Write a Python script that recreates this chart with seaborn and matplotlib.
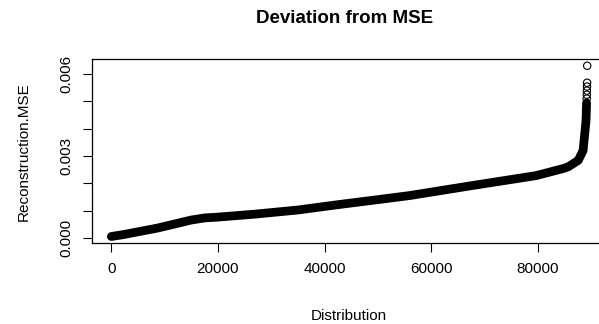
import numpy as np
import pandas as pd
import matplotlib
matplotlib.use("Agg")
import matplotlib.pyplot as plt
import seaborn as sns

# sorted reconstruction errors (index in the sorted list, MSE)
idx = [0, 2270, 8700, 13000, 14900, 17500, 20000, 27000, 35000, 41900, 50000, 56000,
       67200, 79700, 84800, 85700, 87600, 88500, 89050, 89150]
mse = [0.00005, 0.00012, 0.00036, 0.00056, 0.00065, 0.00073, 0.00076, 0.00087, 0.00102,
       0.00120, 0.00140, 0.00155, 0.00190, 0.00228, 0.00254, 0.00260, 0.00284,
       0.00320, 0.00431, 0.00494]

# the few largest errors that show as separate circles
out_idx = [89170, 89190, 89210, 89230, 89250, 89270]
out_mse = [0.00510, 0.00524, 0.00539, 0.00554, 0.00568, 0.00630]

band = pd.DataFrame({"Distribution": idx, "Reconstruction.MSE": mse})
tail = pd.DataFrame({"Distribution": out_idx, "Reconstruction.MSE": out_mse})

sns.set_style("white", rc={"text.color": "black", "axes.labelcolor": "black",
                           "xtick.color": "black", "ytick.color": "black",
                           "xtick.bottom": True, "ytick.left": True})
plt.rcParams["font.family"] = ["Liberation Sans", "DejaVu Sans"]

fig = plt.figure(figsize=(5.99, 3.24), dpi=100)
# the plot box runs a little past the right edge of the picture
ax = fig.add_axes([0.1541, 0.249, 0.858, 0.569])

sns.lineplot(data=band, x="Distribution", y="Reconstruction.MSE", ax=ax,
             color="black", linewidth=6.3, sort=False, estimator=None,
             solid_capstyle="round", solid_joinstyle="round")
sns.scatterplot(data=tail, x="Distribution", y="Reconstruction.MSE", ax=ax,
                facecolor="none", edgecolor="black", linewidth=0.8, s=28,
                marker="o")

# R style 4% padding
all_x = idx + out_idx
all_y = mse + out_mse
px = 0.04 * (max(all_x) - min(all_x))
py = 0.04 * (max(all_y) - min(all_y))
ax.set_xlim(min(all_x) - px, max(all_x) + px)
ax.set_ylim(min(all_y) - py, max(all_y) + py)

xt = [0, 20000, 40000, 60000, 80000]
ax.set_xticks(xt)
ax.set_xticklabels([str(v) for v in xt])
yt = [0, 0.001, 0.002, 0.003, 0.004, 0.005, 0.006]
ax.set_yticks(yt)
ax.set_yticklabels(["0.000", "", "", "0.003", "", "", "0.006"],
                   rotation=90, va="center")

ax.tick_params(axis="both", direction="out", length=6.5, width=0.8,
               colors="black", labelsize=11, pad=7, bottom=True, left=True)
for s in ax.spines.values():
    s.set_visible(True)
    s.set_color("black")
    s.set_linewidth(0.9)

ax.set_xlabel("Distribution", fontsize=11, labelpad=24)
ax.set_ylabel("Reconstruction.MSE", fontsize=11, labelpad=21)
fig.suptitle("Deviation from MSE", fontsize=13.5, fontweight="bold",
             x=0.575, y=0.97, color="black")

fig.savefig("out.png", dpi=100)
